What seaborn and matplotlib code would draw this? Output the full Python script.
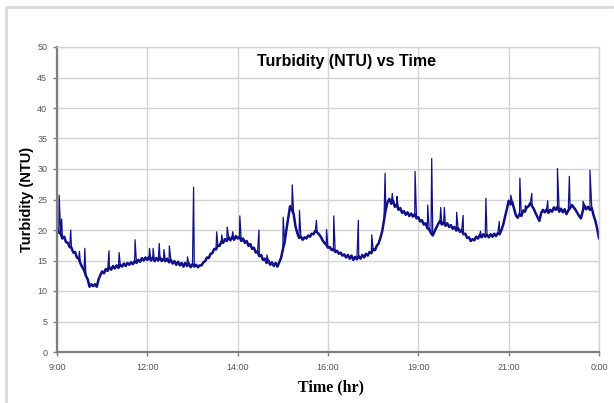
import numpy as np
import pandas as pd
import matplotlib
matplotlib.use("Agg")
import matplotlib.pyplot as plt
from matplotlib.lines import Line2D
import seaborn as sns

# ---------------- data ----------------
# base readings every 0.05 h (3 min) from 9:00 to 24:00
turb_09 = [20.3, 19.6, 19.4, 18.6, 18.9, 18.0, 17.9, 17.2, 17.1, 16.3, 16.4, 15.5, 15.3, 14.5, 13.9, 13.4, 12.5, 11.9, 10.7, 11.1]
turb_10 = [10.8, 11.1, 10.7, 11.9, 12.6, 13.2, 12.9, 13.6, 13.3, 13.9, 13.5, 14.1, 13.7, 14.2, 13.8, 14.3, 14.0, 14.5, 14.1, 14.6]
turb_11 = [14.3, 14.7, 14.4, 14.9, 14.6, 15.1, 14.8, 15.4, 15.0, 15.5, 15.1, 15.6, 15.0, 15.5, 14.9, 15.4, 15.0, 15.5, 14.9, 15.3]
turb_12 = [14.9, 15.3, 14.7, 15.1, 14.5, 14.9, 14.3, 14.8, 14.2, 14.6, 14.0, 14.6, 14.1, 14.5, 13.9, 14.4, 14.0, 14.3, 13.9, 14.2]
turb_13 = [14.2, 14.7, 14.9, 15.5, 15.4, 16.1, 16.2, 16.9, 16.8, 17.5, 17.4, 18.1, 17.9, 18.5, 18.2, 18.8, 18.3, 18.9, 18.4, 19.0]
turb_14 = [18.6, 18.9, 18.2, 18.6, 17.9, 18.2, 17.4, 17.7, 16.9, 17.1, 16.3, 16.5, 15.7, 15.9, 15.1, 15.3, 14.6, 15.0, 14.3, 14.7]
turb_15 = [14.1, 14.6, 14.0, 14.7, 15.4, 16.8, 18.0, 20.1, 22.0, 23.9, 23.3, 22.6, 20.6, 19.5, 18.7, 18.9, 18.4, 18.8, 18.6, 19.1]
turb_16 = [18.9, 19.4, 19.3, 19.9, 19.6, 19.3, 18.9, 18.3, 17.9, 17.6, 17.1, 17.2, 16.7, 16.9, 16.4, 16.6, 16.1, 16.3, 15.8, 16.0]
turb_17 = [15.5, 15.9, 15.3, 15.8, 15.1, 15.6, 15.2, 15.7, 15.3, 15.9, 15.5, 16.1, 15.8, 16.4, 16.2, 16.9, 16.7, 17.4, 17.8, 18.7]
turb_18 = [19.8, 21.6, 23.4, 24.6, 25.1, 24.3, 24.8, 23.8, 24.2, 23.3, 23.6, 22.8, 23.1, 22.5, 22.9, 22.3, 22.7, 22.2, 22.6, 21.9]
turb_19 = [22.1, 21.4, 21.6, 20.9, 21.1, 20.3, 20.1, 19.5, 19.1, 19.8, 20.4, 21.0, 21.5, 20.9, 21.3, 20.7, 21.1, 20.5, 20.8, 20.2]
turb_20 = [20.5, 19.9, 20.3, 19.7, 20.0, 19.3, 19.4, 18.7, 18.8, 18.2, 18.5, 18.3, 18.9, 18.6, 19.2, 18.8, 19.3, 18.9, 19.2, 18.8]
turb_21 = [19.3, 18.9, 19.4, 19.0, 19.5, 19.3, 20.0, 20.9, 22.2, 23.4, 24.8, 24.2, 24.6, 23.5, 22.4, 22.0, 22.6, 22.3, 23.2, 23.0]
turb_22 = [23.7, 23.9, 24.4, 23.9, 23.4, 22.7, 22.1, 21.5, 22.8, 23.3, 22.9, 23.4, 22.8, 23.3, 23.0, 23.7, 23.3, 23.8, 23.0, 23.5]
turb_23 = [22.9, 23.4, 22.6, 23.2, 23.6, 24.1, 23.7, 23.3, 22.8, 22.3, 21.9, 23.1, 24.0, 23.4, 23.8, 23.3, 23.6, 22.4, 21.5, 20.2]
turb_24 = [18.6]

# short spikes (time in h, NTU)
spike_time = [9.06, 9.13, 9.38, 9.62, 9.77, 10.44, 10.72, 11.16, 11.56, 11.66, 11.83, 11.96,
              12.11, 12.61, 12.78, 13.42, 13.56, 13.71, 13.86, 14.06, 14.59, 14.81, 15.26, 15.51,
              15.71, 16.18, 16.46, 16.66, 17.34, 17.71, 18.08, 18.28, 18.41, 18.91, 19.26, 19.37,
              19.62, 19.72, 20.06, 20.24, 20.72, 20.87, 21.24, 21.56, 21.81, 21.96, 22.14, 22.58,
              22.85, 23.18, 23.56, 23.75]
spike_ntu = [25.7, 21.8, 20.0, 16.5, 17.0, 16.6, 16.3, 18.4, 17.0, 17.0, 17.8, 16.8,
             17.4, 15.6, 27.0, 19.7, 19.2, 20.5, 19.7, 22.3, 20.0, 15.9, 22.1, 27.4,
             23.2, 21.6, 20.1, 22.3, 21.6, 19.2, 29.3, 26.0, 25.5, 29.6, 24.1, 31.7,
             23.7, 23.7, 22.9, 22.4, 19.8, 25.2, 21.4, 25.7, 28.5, 24.0, 26.0, 24.8,
             30.1, 28.8, 24.7, 29.8]

x_tick_labels = ["9:00", "12:00", "14:00", "16:00", "19:00", "21:00", "0:00"]
y_ticks = [0, 5, 10, 15, 20, 25, 30, 35, 40, 45, 50]

title = "Turbidity (NTU) vs Time"
x_title = "Time (hr)"
y_title = "Turbidity (NTU)"

# ---------------- assemble ----------------
base_ntu = (turb_09 + turb_10 + turb_11 + turb_12 + turb_13 + turb_14 + turb_15 + turb_16
            + turb_17 + turb_18 + turb_19 + turb_20 + turb_21 + turb_22 + turb_23 + turb_24)
base_time = 9.0 + 0.05 * np.arange(len(base_ntu))
df_base = pd.DataFrame({"time": base_time, "ntu": base_ntu})

t_all = np.concatenate([base_time, np.array(spike_time)])
v_all = np.concatenate([np.array(base_ntu), np.array(spike_ntu)])
order = np.argsort(t_all, kind="stable")
df = pd.DataFrame({"time": t_all[order], "ntu": v_all[order]})

# ---------------- plot ----------------
sns.set_theme(style="white")
plt.rcParams["font.family"] = ["Liberation Sans", "DejaVu Sans"]

fig = plt.figure(figsize=(6.14, 4.03), dpi=100)
fig.patch.set_facecolor("white")
ax = fig.add_axes([57 / 614, 1 - 352 / 403, 542 / 614, 305 / 403])

line_color = "#10108a"
# thick noisy trace
sns.lineplot(data=df_base, x="time", y="ntu", ax=ax, estimator=None, sort=False,
             color=line_color, linewidth=1.8)
# full record including the short spikes
sns.lineplot(data=df, x="time", y="ntu", ax=ax, estimator=None, sort=False,
             color=line_color, linewidth=0.9)

ax.set_xlim(9, 24)
ax.set_ylim(0, 50)
ax.set_xticks(np.linspace(9, 24, len(x_tick_labels)))
ax.set_xticklabels(x_tick_labels)
ax.set_yticks(y_ticks)

ax.grid(True, color="#d4d4d4", linewidth=1.0)
ax.set_axisbelow(True)
for side in ["top", "right"]:
    ax.spines[side].set_color("#d4d4d4")
    ax.spines[side].set_linewidth(1.0)
for side in ["left", "bottom"]:
    ax.spines[side].set_color("#7f7f7f")
    ax.spines[side].set_linewidth(1.6)

ax.tick_params(axis="both", which="major", length=3, width=1, color="#7f7f7f",
               labelsize=6.5, labelcolor="#555555", direction="out", pad=4,
               left=True, bottom=True)
ax.tick_params(axis="x", pad=5)

ax.set_xlabel(x_title, fontsize=11.5, fontweight="bold",
              family=["Liberation Serif", "DejaVu Serif"], color="black")
ax.xaxis.set_label_coords(0.506, -0.09)
ax.set_ylabel(y_title, fontsize=10.5, fontweight="bold", color="black")
ax.yaxis.set_label_coords(-0.042, 0.5)
ax.text(0.535, 0.951, title, transform=ax.transAxes, ha="center", va="center",
        fontsize=11.5, fontweight="bold", color="black")

# outer chart frame (left and top edges)
fig.add_artist(Line2D([6 / 614, 6 / 614], [0, 1 - 7 / 403], transform=fig.transFigure,
                      color="#d9d9d9", linewidth=2))
fig.add_artist(Line2D([6 / 614, 613 / 614], [1 - 7 / 403, 1 - 7 / 403], transform=fig.transFigure,
                      color="#d9d9d9", linewidth=2))

fig.savefig("out.png", dpi=100, facecolor="white")
